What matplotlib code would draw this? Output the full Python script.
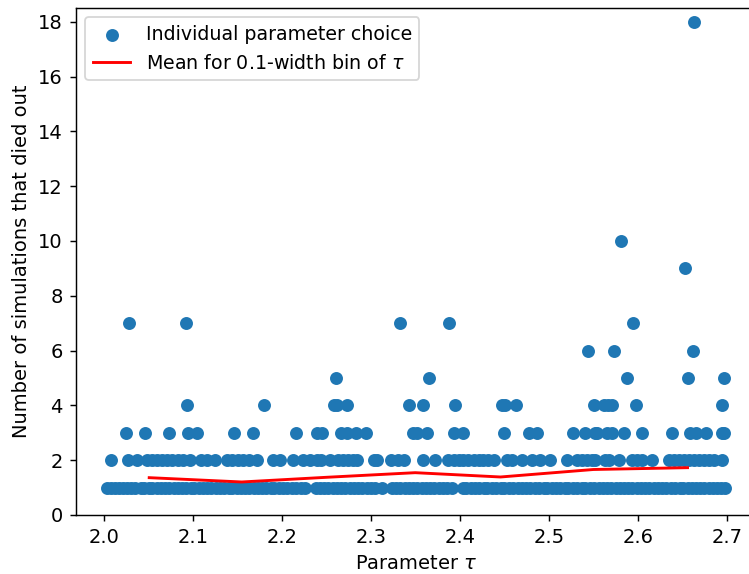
import matplotlib
matplotlib.use("Agg")
import matplotlib.pyplot as plt
import numpy as np

# ---- data ----
tau_y1 = [2.003, 2.007, 2.012, 2.016, 2.021, 2.026, 2.030, 2.035, 2.041, 2.045, 2.050, 2.054,
          2.059, 2.064, 2.068, 2.073, 2.078, 2.083, 2.087, 2.092, 2.097, 2.101, 2.106, 2.111,
          2.115, 2.120, 2.126, 2.130, 2.135, 2.140, 2.144, 2.149, 2.154, 2.158, 2.163, 2.168,
          2.173, 2.177, 2.182, 2.187, 2.191, 2.196, 2.201, 2.206, 2.211, 2.216, 2.221, 2.226,
          2.238, 2.243, 2.247, 2.252, 2.257, 2.262, 2.266, 2.271, 2.276, 2.281, 2.285, 2.290,
          2.295, 2.300, 2.305, 2.312, 2.324, 2.328, 2.333, 2.338, 2.343, 2.347, 2.352, 2.357,
          2.362, 2.366, 2.371, 2.376, 2.381, 2.386, 2.391, 2.403, 2.407, 2.412, 2.417, 2.422,
          2.427, 2.431, 2.436, 2.441, 2.446, 2.450, 2.455, 2.460, 2.465, 2.470, 2.474, 2.479,
          2.484, 2.489, 2.494, 2.498, 2.503, 2.508, 2.513, 2.518, 2.522, 2.527, 2.532, 2.537,
          2.541, 2.546, 2.551, 2.556, 2.561, 2.565, 2.570, 2.575, 2.580, 2.584, 2.589, 2.594,
          2.599, 2.604, 2.608, 2.613, 2.618, 2.623, 2.627, 2.632, 2.637, 2.642, 2.647, 2.651,
          2.656, 2.661, 2.666, 2.670, 2.675, 2.680, 2.685, 2.689, 2.694, 2.698]

tau_y2 = [2.0075, 2.0270, 2.0365, 2.0477, 2.0533, 2.0590, 2.0646, 2.0702, 2.0758, 2.0833,
          2.0889, 2.0964, 2.1088, 2.1152, 2.1246, 2.1377, 2.1440, 2.1501, 2.1564, 2.1628,
          2.1715, 2.1902, 2.1977, 2.2120, 2.2240, 2.2315, 2.2390, 2.2439, 2.2540, 2.2633,
          2.2686, 2.2746, 2.2802, 2.2840, 2.3035, 2.3069, 2.3226, 2.3300, 2.3373, 2.3583,
          2.3722, 2.3871, 2.3928, 2.3984, 2.4040, 2.4096, 2.4153, 2.4209, 2.4265, 2.4321,
          2.4378, 2.4528, 2.4585, 2.4697, 2.4810, 2.4903, 2.5016, 2.5204, 2.5316, 2.5372,
          2.5429, 2.5485, 2.5522, 2.5635, 2.5672, 2.5792, 2.5935, 2.5991, 2.6048, 2.6160,
          2.6347, 2.6403, 2.6460, 2.6516, 2.6572, 2.6628, 2.6685, 2.6741, 2.6797, 2.6853,
          2.6948]

tau_y3 = [2.0241, 2.0455, 2.0728, 2.0939, 2.1047, 2.1463, 2.1670, 2.2161, 2.2397, 2.2447,
          2.2660, 2.2728, 2.2833, 2.2945, 2.3477, 2.3522, 2.3635, 2.3928, 2.4040, 2.4500,
          2.4782, 2.4870, 2.5269, 2.5402, 2.5514, 2.5541, 2.5654, 2.5710, 2.5849, 2.6048,
          2.6385, 2.6591, 2.6655, 2.6771, 2.6948, 2.6974]

tau_y4 = [2.0931, 2.1801, 2.2588, 2.2622, 2.2735, 2.3432, 2.3583, 2.3947, 2.4472, 2.4509,
          2.4633, 2.5503, 2.5616, 2.5661, 2.5706, 2.5984, 2.6948]

tau_y5 = [2.2607, 2.3650, 2.5879, 2.6561, 2.6970]
tau_y6 = [2.5443, 2.5736, 2.6617]
tau_y7 = [2.0278, 2.0923, 2.3327, 2.3878, 2.5948]
tau_y9 = [2.6527]
tau_y10 = [2.5811]
tau_y18 = [2.6636]

bin_tau = [2.0505, 2.1546, 2.25, 2.3497, 2.4456, 2.55, 2.656]
bin_mean = [1.362, 1.205, 1.376, 1.544, 1.387, 1.66, 1.727]

groups = [(tau_y1, 1), (tau_y2, 2), (tau_y3, 3), (tau_y4, 4), (tau_y5, 5),
          (tau_y6, 6), (tau_y7, 7), (tau_y9, 9), (tau_y10, 10), (tau_y18, 18)]
xs = np.concatenate([np.asarray(g, float) for g, v in groups])
ys = np.concatenate([np.full(len(g), v, float) for g, v in groups])

plt.rcParams['font.size'] = 10.8

DPI = 130
fig = plt.figure(figsize=(749 / DPI, 574 / DPI), dpi=DPI)
ax = fig.add_axes([75.5 / 749, 59 / 574, (756 - 75.5) / 749, (515 - 8) / 574])

ax.scatter(xs, ys, color="#1f77b4", s=38, label="Individual parameter choice", zorder=2)
ax.plot(bin_tau, bin_mean, color="red", lw=1.6, label=r"Mean for 0.1-width bin of $\tau$", zorder=3)

ax.set_xlim(1.9676, 2.733)
ax.set_ylim(0, 18.5)
ax.set_xticks([2.0, 2.1, 2.2, 2.3, 2.4, 2.5, 2.6, 2.7])
ax.set_yticks(range(0, 19, 2))
ax.set_xlabel(r"Parameter $\tau$")
ax.set_ylabel("Number of simulations that died out")
ax.legend(loc="upper left", fontsize=10.5)

fig.savefig("out.png", dpi=DPI)
